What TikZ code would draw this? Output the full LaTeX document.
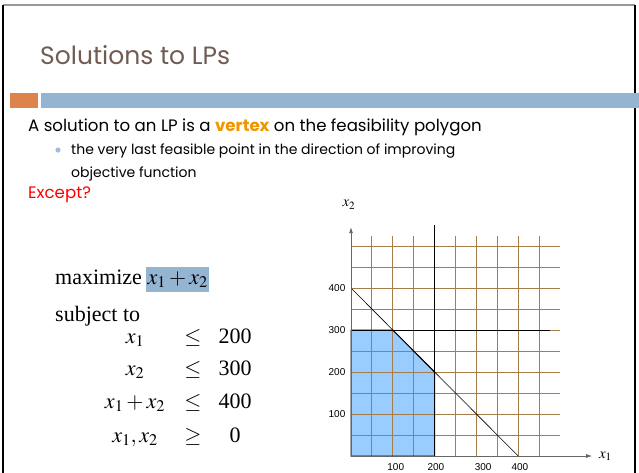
\documentclass[tikz,border=0pt]{standalone}
\usepackage{mathptmx}
\usepackage{fontspec}
\setmainfont{Poppins}
\newfontfamily\timesfont{Liberation Serif}
\newfontfamily\arialfont{Liberation Sans}
\usetikzlibrary{arrows.meta,positioning}
\definecolor{titlebrown}{RGB}{112,92,82}
\definecolor{barorange}{RGB}{221,132,74}
\definecolor{barblue}{RGB}{148,180,210}
\definecolor{vertexorange}{RGB}{240,150,0}
\definecolor{gridbrown}{RGB}{165,125,75}
\definecolor{feasblue}{RGB}{153,204,255}
\definecolor{bulletblue}{RGB}{160,190,220}

\begin{document}
\begin{tikzpicture}[x=1pt, y=-1pt,
  bodytext/.style={anchor=base west, inner sep=0pt, font=\fontsize{16.6}{18}\selectfont},
  subtext/.style={anchor=base west, inner sep=0pt, font=\fontsize{14}{16}\selectfont},
  lptext/.style={anchor=base, inner sep=0pt, font=\timesfont\fontsize{22}{24}\selectfont},
  gridline/.style={gridbrown, line width=1pt},
  boldline/.style={black, line width=0.8pt},
  axisline/.style={black!60, line width=0.8pt, -{Latex[length=6pt,width=4pt]}},
  ticklabel/.style={inner sep=0pt, font=\arialfont\fontsize{10}{12}\selectfont},
]
  \useasboundingbox (0,0) rectangle (639,472);

  % Frame and bars
  \draw[black!40, line width=2pt] (3,5) -- (635,5);
  \draw[black, line width=2pt] (3,5) -- (3,480);
  \draw[black, line width=2pt] (635,5) -- (635,480);
  \fill[barorange] (10,93) rectangle (38,108);
  \fill[barblue] (41,93) rectangle (639,108);

  % Title
  \node[anchor=base west, inner sep=0pt, text=titlebrown,
    font=\fontsize{25}{28}\selectfont] (title) at (40,64) {Solutions to LPs};

  % Text
  \node[bodytext] (claim) at (28,131)
    {A solution to an LP is a {\bfseries\color{vertexorange}vertex} on the feasibility polygon};
  \fill[bulletblue] (58,150) circle (2.6);
  \node[subtext] (bullet1) at (71,154)
    {the very last feasible point in the direction of improving};
  \node[subtext] (bullet2) at (71,177) {objective function};
  \node[bodytext, text=red] (except) at (28,198) {Except?};

  % LP
  \node[lptext, anchor=base west] (maxword) at (55,284) {maximize};
  \node[lptext, anchor=base west, fill=barblue, inner sep=1pt,
    text height=16pt, text depth=7pt, minimum width=63pt] (objective) at (146,284) {$x_1+x_2$};
  \node[lptext, anchor=base west] (subj) at (55,321) {subject to};
  \node[lptext] (lhs1) at (135,343) {$x_1$};
  \node[lptext] (rel1) at (193,343) {$\le$};
  \node[lptext] (rhs1) at (235,343) {200};
  \node[lptext] (lhs2) at (135,375) {$x_2$};
  \node[lptext] (rel2) at (193,375) {$\le$};
  \node[lptext] (rhs2) at (235,375) {300};
  \node[lptext] (lhs3) at (135,408) {$x_1+x_2$};
  \node[lptext] (rel3) at (193,408) {$\le$};
  \node[lptext] (rhs3) at (235,408) {400};
  \node[lptext] (lhs4) at (135,442) {$x_1,x_2$};
  \node[lptext] (rel4) at (193,442) {$\ge$};
  \node[lptext] (rhs4) at (235,442) {0};

  % Feasibility polygon
  \begin{scope}[shift={(351,456)}, x=41.8pt, y=42pt]
    \coordinate (origin) at (0,0);
    \fill[feasblue] (0,0) -- (2,0) -- (2,2) -- (1,3) -- (0,3) -- cycle;
    \foreach \i in {0.5,1,...,4.5}
      \draw[gridline] (\i,0) -- (\i,5.25);
    \foreach \j in {0.5,1,...,5}
      \draw[gridline] (0,\j) -- (5,\j);
    \draw[boldline] (2,0) -- (2,5.5);
    \draw[boldline] (0,3) -- (4.76,3);
    \draw[black, line width=0.6pt] (0,4) -- (4,0);
    \draw[black, line width=1pt] (0,0) -- (2,0) -- (2,2) -- (1,3) -- (0,3) -- cycle;
    \coordinate (xend) at (5.77,0);
    \coordinate (yend) at (0,5.45);
    \draw[axisline] (origin) -- (xend);
    \draw[axisline] (origin) -- (yend);
    \node[anchor=west, inner sep=0pt, font=\fontsize{15}{17}\selectfont] (xlab) at (5.93,0) {$x_1$};
    \node[inner sep=0pt, font=\fontsize{15}{17}\selectfont] (ylab) at (-0.05,5.98) {$x_2$};
    \node[ticklabel, anchor=east] (y100) at (-0.13,1) {100};
    \node[ticklabel, anchor=east] (y200) at (-0.13,2) {200};
    \node[ticklabel, anchor=east] (y300) at (-0.13,3) {300};
    \node[ticklabel, anchor=east] (y400) at (-0.13,4) {400};
    \node[ticklabel] (x100) at (1.07,-0.27) {100};
    \node[ticklabel] (x200) at (2.03,-0.27) {200};
    \node[ticklabel] (x300) at (3.16,-0.27) {300};
    \node[ticklabel] (x400) at (4.04,-0.27) {400};
  \end{scope}
\end{tikzpicture}
\end{document}
